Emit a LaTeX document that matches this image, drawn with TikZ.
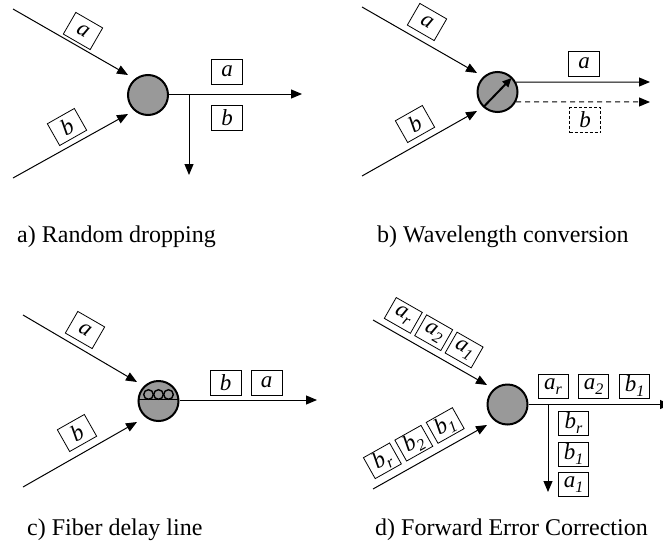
\documentclass[tikz,border=0pt]{standalone}
\usepackage{fontspec}
\setmainfont{Liberation Serif}
\usetikzlibrary{arrows.meta,calc}
\definecolor{nodegray}{RGB}{153,153,153}
\newcommand\lowsub[1]{\raisebox{-5pt}{\fontsize{16}{16}\selectfont #1}}
\tikzset{
  conn/.style={line width=1pt, -{Triangle[length=11pt,width=9pt]}},
  pkt/.style={draw, line width=0.8pt, minimum width=31pt, minimum height=25pt, inner sep=0pt, font=\fontsize{23}{23}\selectfont\itshape},
  pktd/.style={pkt, minimum width=30pt, minimum height=24pt},
  sw/.style={circle, draw, line width=2pt, fill=nodegray, minimum size=40pt, inner sep=0pt},
  captxt/.style={anchor=base west, font=\fontsize{24}{24}\selectfont, inner sep=0pt},
}
\begin{document}
\begin{tikzpicture}[x=1pt,y=-1pt]
\useasboundingbox (0,0) rectangle (663,546);

% ---------- a) Random dropping ----------
\node[sw] (A) at (148,95) {};
\coordinate (Aain) at (13,9);   \coordinate (Aatip) at (128,75);
\coordinate (Abin) at (13,178); \coordinate (Abtip) at (128,114);
\coordinate (Aout) at (302,94);
\coordinate (Asplit) at (189,94); \coordinate (Adrop) at (189,175);
\draw[conn] (A.east) ++(0,-1) -- (Aout);
\draw[conn] (Aain) -- (Aatip);
\draw[conn] (Abin) -- (Abtip);
\draw[conn] (Asplit) -- (Adrop);
\node[pkt, rotate=-30] (Apa) at (83,31) {a};
\node[pkt, rotate=29.5] (Apb) at (67,127) {b};
\node[pkt] (Aoa) at (227,71.5) {a};
\node[pkt] (Aob) at (227,117.5) {b};
\node[captxt] (capA) at (17,242) {a) Random dropping};

% ---------- b) Wavelength conversion ----------
\node[sw] (B) at (497.5,92) {};
\coordinate (Bain) at (362,7);   \coordinate (Batip) at (477,73);
\coordinate (Bbin) at (362,176); \coordinate (Bbtip) at (477,111);
\coordinate (Bouta) at (650,82); \coordinate (Boutb) at (650,102);
\draw[conn] (Bain) -- (Batip);
\draw[conn] (Bbin) -- (Bbtip);
\draw[conn] (B.28) -- (Bouta);
\draw[conn, dashed, dash pattern=on 5pt off 4pt] (B.-28) -- (Boutb);
\draw[line width=2pt, -{Triangle[length=9pt,width=8pt]}] ($(B)+(-14,15)$) -- ($(B)+(14,-14)$);
\node[pkt, rotate=-30] (Bpa) at (427,22) {a};
\node[pkt, rotate=29.5] (Bpb) at (415,124) {b};
\node[pkt] (Boa) at (584,63.5) {a};
\node[pkt, dashed, dash pattern=on 3pt off 2pt] (Bob) at (585,120) {b};
\node[captxt] (capB) at (377,242) {b) Wavelength conversion};

% ---------- c) Fiber delay line ----------
\node[sw] (C) at (158.5,401) {};
\coordinate (Cain) at (23,315);  \coordinate (Catip) at (137,382);
\coordinate (Cbin) at (23,487);  \coordinate (Cbtip) at (137,422);
\coordinate (Cout) at (317,400);
\draw[conn] (Cain) -- (Catip);
\draw[conn] (Cbin) -- (Cbtip);
\draw[conn] (C.east) ++(0,-1) -- (Cout);
\draw[line width=1.4pt] ($(C)+(-20.5,-1.5)$) -- ($(C)+(20.5,-1.5)$);
\foreach \dx in {-10,0,10}{
  \draw[line width=1.4pt] ($(C)+(\dx,-6.5)$) circle[radius=4.8];
}
\node[pkt, rotate=-30] (Cpa) at (85,330) {a};
\node[pkt, rotate=29.5] (Cpb) at (77,433) {b};
\node[pkt] (Cob) at (225.5,382.5) {b};
\node[pkt] (Coa) at (266.5,382.5) {a};
\node[captxt] (capC) at (27,535) {c) Fiber delay line};

% ---------- d) Forward Error Correction ----------
\node[sw] (D) at (507.5,404.5) {};
\coordinate (Dain) at (373,320); \coordinate (Datip) at (487,385);
\coordinate (Dbin) at (373,489); \coordinate (Dbtip) at (487,425);
\coordinate (Dout) at (671,404.5);
\coordinate (Dsplit) at (548,404.5); \coordinate (Ddrop) at (548,492);
\draw[conn] (Dain) -- (Datip);
\draw[conn] (Dbin) -- (Dbtip);
\draw[conn] (D.east) -- (Dout);
\draw[conn] (Dsplit) -- (Ddrop);
\node[pktd, rotate=-29.7] (Dar) at (403.3,315.4) {a\lowsub{r}};
\node[pktd, rotate=-29.7] (Da2) at (433.7,332.7) {a\lowsub{2}};
\node[pktd, rotate=-29.7] (Da1) at (464.1,350) {a\lowsub{1}};
\node[pktd, rotate=29.3] (Dbr) at (382.4,460.8) {b\lowsub{r}};
\node[pktd, rotate=29.3] (Db2) at (413.8,443.2) {b\lowsub{2}};
\node[pktd, rotate=29.3] (Db1) at (445.2,425.5) {b\lowsub{1}};
\node[pktd] (Doar) at (553,386.5) {a\lowsub{r}};
\node[pktd] (Doa2) at (593.5,386.5) {a\lowsub{2}};
\node[pktd] (Dob1) at (634.5,386.5) {b\lowsub{1}};
\node[pktd] (Dvbr) at (573.5,423.5) {b\lowsub{r}};
\node[pktd] (Dvb1) at (573.5,454) {b\lowsub{1}};
\node[pktd] (Dva1) at (573.5,484.5) {a\lowsub{1}};
\node[captxt] (capD) at (375,535) {d) Forward Error Correction};
\end{tikzpicture}
\end{document}
